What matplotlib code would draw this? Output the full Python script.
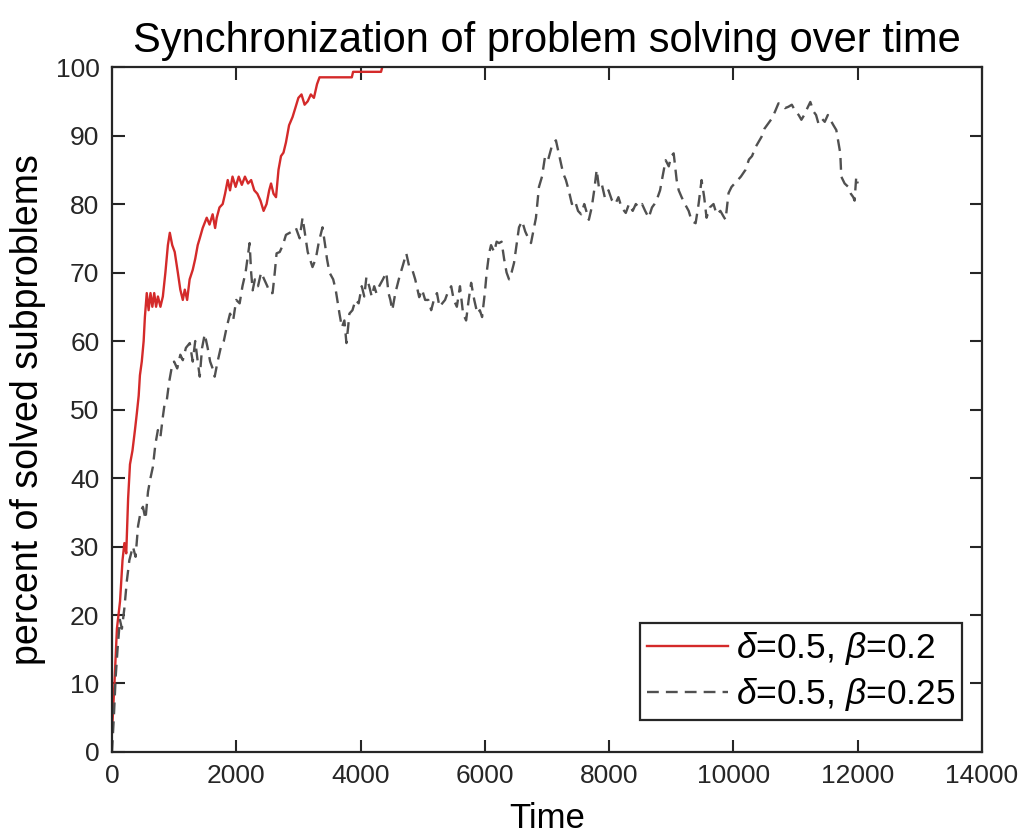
import matplotlib as mpl
mpl.use('Agg')
from matplotlib import pyplot as plt

# red curve: delta=0.5, beta=0.2
red_t = [0, 40, 80, 130, 170, 200, 230, 260, 290, 330, 370, 401, 430, 450, 480, 510,
         530, 560, 590, 620, 650, 680, 710, 740, 780, 819, 860, 900, 931, 970, 1010,
         1060, 1100, 1140, 1172, 1210, 1250, 1300, 1340, 1380, 1413, 1460, 1525, 1570,
         1620, 1660, 1686, 1730, 1782, 1820, 1863, 1900, 1940, 1990, 2040, 2090, 2140,
         2190, 2240, 2290, 2340, 2390, 2440, 2488, 2530, 2560, 2600, 2640, 2680, 2720,
         2760, 2800, 2850, 2906, 2950, 3000, 3050, 3100, 3150, 3200, 3250, 3300, 3340,
         3400, 3600, 3860, 3880, 4330, 4350]
red_pct = [2.8, 10, 18, 22, 28, 30.5, 29, 37, 42, 44, 47, 49.5, 52, 55, 57, 60,
           63.5, 67, 64.5, 67, 65, 67, 65, 66.5, 65, 66.5, 70, 74, 75.8, 74, 73,
           70, 67.5, 66, 67.5, 66, 69, 70.4, 72, 74, 75, 76.5, 78, 77,
           78.5, 76.5, 78, 79.5, 80, 81.5, 83.5, 82, 84, 82.5, 84, 82.8, 84,
           83, 83.5, 82, 81.5, 80.5, 79, 80, 82, 83, 81.5, 81, 85, 87,
           87.5, 89, 91.5, 92.7, 94, 95.5, 96, 94.5, 95, 96, 95.5, 97.5, 98.5,
           98.5, 98.5, 98.5, 99.3, 99.3, 100]

# gray dashed curve: delta=0.5, beta=0.25
gray_t = [0, 30, 60, 90, 128, 160, 200, 240, 280, 337, 380, 420, 460, 498, 540, 580,
          620, 658, 700, 739, 780, 820, 850, 883, 920, 963, 1000, 1050, 1100, 1140,
          1190, 1252, 1300, 1340, 1380, 1413, 1450, 1493, 1540, 1580, 1620, 1653, 1700,
          1750, 1800, 1846, 1900, 1950, 2000, 2055, 2100, 2150, 2215, 2240, 2264, 2300,
          2350, 2400, 2450, 2500, 2540, 2585, 2620, 2649, 2700, 2750, 2800, 2858, 2900,
          2960, 3020, 3067, 3100, 3150, 3227, 3280, 3330, 3388, 3430, 3460, 3500, 3560,
          3600, 3661, 3700, 3740, 3773, 3800, 3821, 3870, 3920, 3970, 4020, 4060, 4094,
          4140, 4180, 4220, 4255, 4300, 4360, 4415, 4450, 4480, 4511, 4560, 4624, 4680,
          4736, 4780, 4830, 4880, 4944, 4990, 5040, 5090, 5137, 5180, 5230, 5270, 5314,
          5360, 5400, 5459, 5500, 5550, 5600, 5650, 5699, 5740, 5780, 5830, 5880, 5920,
          5956, 6000, 6030, 6069, 6100, 6150, 6190, 6229, 6270, 6310, 6350, 6390, 6430,
          6470, 6510, 6550, 6600, 6650, 6700, 6743, 6780, 6823, 6871, 6920, 6970, 7020,
          7080, 7144, 7200, 7260, 7305, 7350, 7401, 7450, 7500, 7550, 7600, 7674, 7720,
          7760, 7800, 7835, 7880, 7930, 7990, 8043, 8100, 8150, 8200, 8268, 8320, 8380,
          8430, 8480, 8530, 8580, 8637, 8690, 8730, 8766, 8820, 8860, 8910, 8960, 9000,
          9039, 9087, 9120, 9167, 9220, 9280, 9330, 9392, 9440, 9488, 9530, 9568, 9620,
          9680, 9730, 9790, 9840, 9874, 9922, 9970, 10020, 10070, 10120, 10195, 10250,
          10300, 10356, 10400, 10452, 10500, 10564, 10620, 10670, 10725, 10780, 10830,
          10885, 10940, 11000, 11050, 11094, 11140, 11190, 11238, 11290, 11330, 11367,
          11420, 11470, 11520, 11560, 11610, 11656, 11690, 11720, 11736, 11790, 11848,
          11890, 11929, 11950, 11977, 12000]
gray_pct = [0, 5, 11, 15, 19.3, 18, 21, 25, 28, 30, 28.5, 33, 35, 35.8, 34, 38,
            40, 41.6, 45, 47, 46, 49, 51, 51.4, 54, 56.2, 57, 56, 58, 57.2,
            59, 59.7, 57, 60, 57, 54.8, 59, 61, 59, 57, 56, 54.8, 57,
            59, 60, 62, 64, 63, 66, 65.5, 68, 70, 74.3, 70, 67.4, 69,
            68, 70, 69, 68, 67, 67, 70, 72.8, 73, 74, 75.5, 75.8, 76,
            76.5, 75, 78, 76, 73, 70.8, 72, 74.5, 76.6, 74, 72, 70, 69,
            67.5, 64, 62, 63, 59.7, 62, 64, 64.5, 66, 65.5, 68, 66.5, 69.3,
            68, 66.5, 68, 67, 68, 69, 70, 67, 66, 64.5, 67, 69.3, 71,
            72.8, 71, 70.5, 69, 66.4, 67.5, 66, 66, 64.5, 66, 67, 65, 65.5,
            66, 67, 68, 66, 65, 68, 64, 63, 66, 68.5, 66, 64, 64.5,
            63.5, 67, 70, 72.8, 74, 73, 74.5, 74.3, 74.5, 72, 70, 69, 70,
            71.4, 74, 76.6, 77.5, 76, 75, 74.3, 76, 78, 82.5, 84, 87, 86.5,
            88.5, 89.3, 87, 84.5, 83.5, 82, 80, 80.5, 79, 78.5, 80, 77.7, 79.5,
            82, 85, 82.5, 83, 81, 82, 80.6, 80, 81, 79.5, 78.7, 80, 79,
            80, 79.5, 80, 79, 78, 79.5, 80, 80.6, 82, 84, 86.4, 85.5, 87,
            87.4, 83.5, 82, 81, 80, 79, 77.5, 77.2, 80, 83.5, 81, 78, 79.5,
            80, 78.5, 79, 78.2, 77.7, 81.6, 82.5, 83, 83.5, 84, 85, 86.5,
            87, 88.3, 89, 89.8, 91, 91.8, 92.5, 93.5, 94.7, 94.5, 94,
            94.2, 94.5, 93.5, 93, 92.3, 93, 94, 94.9, 93.5, 93, 91.8,
            92.5, 92, 93, 92.3, 91.5, 90.8, 89, 87.4, 84, 83, 82.5,
            81.5, 81, 80.5, 84, 83]

labels = [r'$\delta$=0.5, $\beta$=0.2', r'$\delta$=0.5, $\beta$=0.25']

plt.rcParams['font.family'] = ['Liberation Sans', 'DejaVu Sans']
plt.rcParams['mathtext.fontset'] = 'custom'
plt.rcParams['mathtext.rm'] = 'Liberation Sans'
plt.rcParams['mathtext.it'] = 'Liberation Sans:italic'

fig = plt.figure(figsize=(10.29, 8.39), dpi=100)
ax = fig.add_axes([0.1088, 0.1037, 0.8455, 0.8164])

ax.plot(red_t, red_pct, color='#d42a2a', linewidth=1.7, label=labels[0])
ax.plot(gray_t, gray_pct, color='#505050', linewidth=1.7, linestyle=(0, (5, 3)),
        label=labels[1])

ax.set_xlim(0, 14000)
ax.set_ylim(0, 100)
ax.set_xticks(range(0, 14001, 2000))
ax.set_yticks(range(0, 101, 10))
ax.tick_params(direction='in', length=9, width=1.5, top=True, right=True,
               labelsize=19, colors='#262626', pad=9)
for s in ax.spines.values():
    s.set_linewidth(1.6)
    s.set_color('#262626')

ax.set_title('Synchronization of problem solving over time', fontsize=30, pad=11)
ax.set_xlabel('Time', fontsize=25, labelpad=10)
ax.set_ylabel('percent of solved subproblems', fontsize=27, labelpad=7)

leg = ax.legend(loc='lower right', bbox_to_anchor=(0.977, 0.0467), fontsize=25.5,
                fancybox=False, framealpha=1, edgecolor='#262626',
                handlelength=2.3, borderaxespad=0, labelspacing=0.25,
                handletextpad=0.2, borderpad=0.2)
leg.get_frame().set_linewidth(1.6)

fig.savefig('out.png', dpi=100)
